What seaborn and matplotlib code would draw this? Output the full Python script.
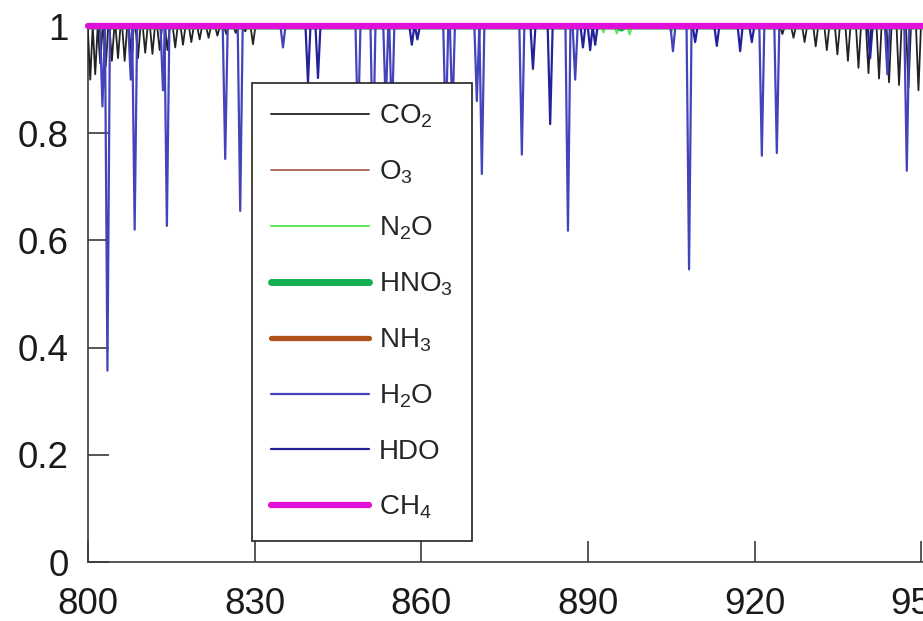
import matplotlib
matplotlib.use("Agg")
import matplotlib.pyplot as plt
import seaborn as sns

# ---------------- data ----------------
X_START, X_END = 800.0, 1000.0

gases = ["CO2", "O3", "N2O", "HNO3", "NH3", "H2O", "HDO", "CH4"]
legend_labels = [r"CO$_{\mathregular{2}}$", r"O$_{\mathregular{3}}$", r"N$_{\mathregular{2}}$O",
                 r"HNO$_{\mathregular{3}}$", r"NH$_{\mathregular{3}}$", r"H$_{\mathregular{2}}$O",
                 "HDO", r"CH$_{\mathregular{4}}$"]

# absorption line centres (cm-1) and minimum transmittance per gas
co2_centers = [800.4, 801.3, 802.2, 803.2, 804.3, 805.4, 806.6, 807.8, 809.0, 810.3,
               811.6, 812.9, 814.3, 815.7, 817.1, 818.6, 820.1, 821.7, 823.3, 824.9,
               826.6, 828.3, 829.7,
               925.0, 927.0, 929.0, 931.0, 933.0, 934.9, 936.8, 938.7, 940.5, 942.4,
               944.2, 946.0, 947.7, 949.5]
co2_minima = [0.90, 0.91, 0.93, 0.925, 0.935, 0.94, 0.935, 0.945, 0.94, 0.95,
              0.948, 0.955, 0.955, 0.96, 0.965, 0.97, 0.975, 0.978, 0.982, 0.985,
              0.987, 0.99, 0.966,
              0.985, 0.978, 0.97, 0.962, 0.955, 0.947, 0.935, 0.922, 0.912, 0.902,
              0.895, 0.89, 0.885, 0.88]

o3_centers, o3_minima = [], []
n2o_centers = [892.8, 895.2, 897.5, 905.0]
n2o_minima = [0.988, 0.986, 0.984, 0.988]
hno3_centers = [896.0]
hno3_minima = [0.996]
nh3_centers, nh3_minima = [], []

h2o_centers = [802.6, 803.5, 807.7, 808.4, 813.5, 814.2, 824.7, 827.4, 835.1,
               848.6, 851.3, 853.6, 854.7, 864.4, 865.6, 870.0, 870.9, 878.1,
               886.4, 887.7, 905.3, 908.2, 921.3, 924.0, 943.9, 947.4]
h2o_minima = [0.85, 0.357, 0.90, 0.62, 0.88, 0.627, 0.752, 0.655, 0.96,
              0.80, 0.75, 0.85, 0.82, 0.80, 0.83, 0.86, 0.724, 0.76,
              0.618, 0.90, 0.953, 0.546, 0.758, 0.763, 0.91, 0.73]

hdo_centers = [839.6, 841.4, 858.3, 859.3, 880.1, 883.2, 889.1, 890.4, 891.3,
               909.3, 913.2, 917.4, 919.5, 940.8]
hdo_minima = [0.894, 0.903, 0.965, 0.975, 0.92, 0.817, 0.96, 0.955, 0.965,
              0.97, 0.963, 0.953, 0.97, 0.94]

ch4_centers, ch4_minima = [], []

x_ticks = [800, 830, 860, 890, 920, 950, 980]
y_ticks = [0, 0.2, 0.4, 0.6, 0.8, 1.0]
y_tick_labels = ["0", "0.2", "0.4", "0.6", "0.8", "1"]

# ---------------- styles ----------------
HW = 0.45  # half width of a drawn dip (style)
styles = {
    "CO2": dict(color="#222222", lw=1.3),
    "O3": dict(color="#b0605a", lw=1.3),
    "N2O": dict(color="#5ce65c", lw=1.4),
    "HNO3": dict(color="#12b050", lw=5.0),
    "NH3": dict(color="#b0501a", lw=3.8),
    "H2O": dict(color="#4343bb", lw=1.6),
    "HDO": dict(color="#22229a", lw=1.6),
    "CH4": dict(color="#e010d8", lw=4.5),
}
line_lists = {
    "CO2": (co2_centers, co2_minima),
    "O3": (o3_centers, o3_minima),
    "N2O": (n2o_centers, n2o_minima),
    "HNO3": (hno3_centers, hno3_minima),
    "NH3": (nh3_centers, nh3_minima),
    "H2O": (h2o_centers, h2o_minima),
    "HDO": (hdo_centers, hdo_minima),
    "CH4": (ch4_centers, ch4_minima),
}


def trace(centers, minima):
    xs, ys = [X_START], [1.0]
    for c, m in sorted(zip(centers, minima)):
        xs += [c - HW, c, c + HW]
        ys += [1.0, m, 1.0]
    xs.append(X_END)
    ys.append(1.0)
    return xs, ys


sns.set_style("white")
plt.rcParams["font.family"] = ["Liberation Sans", "DejaVu Sans"]
plt.rcParams["mathtext.fontset"] = "custom"
plt.rcParams["mathtext.rm"] = "Liberation Sans"
plt.rcParams["mathtext.it"] = "Liberation Sans:italic"
plt.rcParams["mathtext.bf"] = "Liberation Sans:bold"

W, H = 923, 621
fig = plt.figure(figsize=(W / 100, H / 100), dpi=100)
ax = fig.add_axes([88 / W, 59 / H, 1111 / W, 536 / H])

for i, (g, lab) in enumerate(zip(gases, legend_labels)):
    xs, ys = trace(*line_lists[g])
    st = styles[g]
    sns.lineplot(x=xs, y=ys, ax=ax, color=st["color"], linewidth=st["lw"],
                 label=lab, sort=False, estimator=None, zorder=3 + i,
                 clip_on=(g != "CH4"))

ax.set_xlim(X_START, X_END)
ax.set_ylim(0, 1)
ax.set_xticks(x_ticks)
ax.set_xticklabels([str(t) for t in x_ticks])
ax.set_yticks(y_ticks)
ax.set_yticklabels(y_tick_labels)
ax.set_xlabel("")
ax.set_ylabel("")
for side in ["left", "bottom", "top", "right"]:
    ax.spines[side].set_color("#3a3a3a")
    ax.spines[side].set_linewidth(1.2)
ax.tick_params(axis="both", which="major", direction="in", length=15, width=1.2,
               color="#3a3a3a", labelsize=26.5, labelcolor="#1a1a1a",
               bottom=True, left=True, top=False, right=False)
ax.tick_params(axis="x", pad=18)
ax.tick_params(axis="y", pad=14)

leg = ax.legend(loc="upper left", bbox_to_anchor=(252 / W, 1 - 83 / H),
                bbox_transform=fig.transFigure, borderaxespad=0,
                fontsize=20, frameon=True, fancybox=False, framealpha=1,
                handlelength=3.5, handletextpad=0.36, labelspacing=1.03,
                borderpad=0.7)
leg.get_frame().set_edgecolor("#222222")
leg.get_frame().set_linewidth(1.2)
leg.set_zorder(20)

fig.savefig("out.png", dpi=100)
